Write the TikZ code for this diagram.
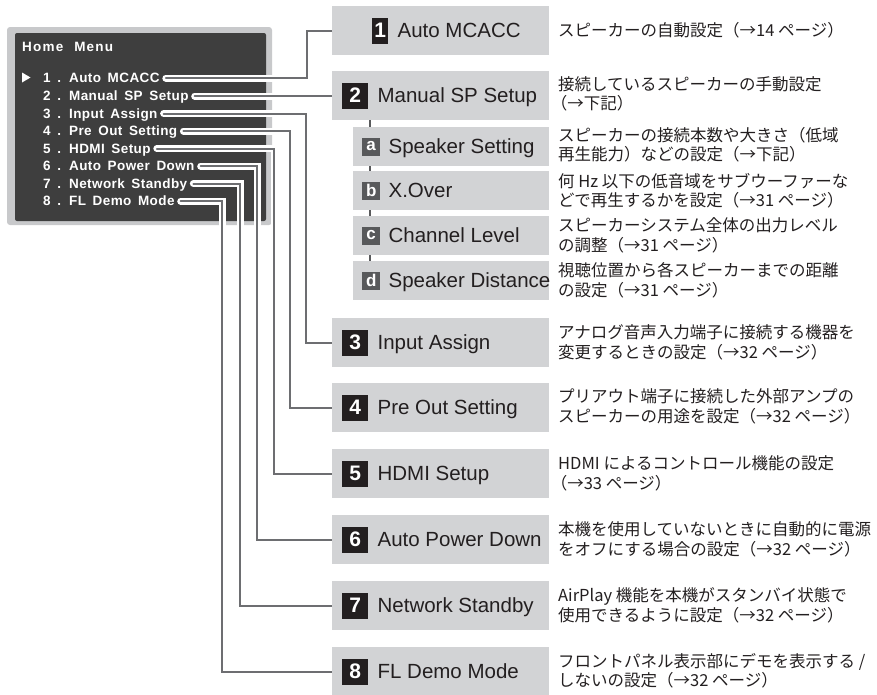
\documentclass[tikz,border=0pt]{standalone}
\usepackage{fontspec}
\setmainfont{Liberation Sans}
\newfontfamily\jp{Noto Sans CJK JP}
\newfontfamily\menufont[LetterSpace=3,WordSpace=1.6]{Liberation Sans}
\newfontfamily\homefont[LetterSpace=9,WordSpace=2.2]{Liberation Sans}
\definecolor{boxgray}{HTML}{D2D3D5}
\definecolor{badgeblack}{HTML}{231F20}
\definecolor{subdark}{HTML}{58595B}
\definecolor{ink}{HTML}{231F20}
\definecolor{conngray}{HTML}{6D6E71}
\definecolor{framegray}{HTML}{C8C9CB}
\definecolor{paneldark}{HTML}{3E3E3E}
\pgfdeclarelayer{back}
\pgfdeclarelayer{mid}
\pgfsetlayers{back,mid,main}
\begin{document}
\begin{tikzpicture}[x=1pt,y=-1pt,
  box/.style={fill=boxgray, minimum width=217pt, minimum height=49pt, anchor=north west, inner sep=0pt, outer sep=0pt},
  subbox/.style={fill=boxgray, minimum width=196pt, minimum height=39pt, anchor=north west, inner sep=0pt, outer sep=0pt},
  badge/.style={fill=badgeblack, text=white, font=\bfseries\fontsize{21}{21}\selectfont, minimum width=26pt, minimum height=26pt, inner sep=0pt, anchor=west},
  subbadge/.style={fill=subdark, text=white, font=\bfseries\fontsize{17}{17}\selectfont, minimum size=18pt, inner sep=0pt, anchor=west},
  boxlabel/.style={font=\fontsize{20.5}{20.5}\selectfont, text=ink, inner sep=0pt, text height=14.7pt, text depth=0pt, anchor=west},
  desc/.style={font=\jp\fontsize{16.5}{19.5}\selectfont, text=ink, align=left, inner sep=0pt, anchor=west},
  menuitem/.style={font=\menufont\bfseries\fontsize{13.5}{13.5}\selectfont, text=white, inner sep=0pt, text height=9.7pt, text depth=0pt, anchor=west},
  conn/.style={draw=conngray, line width=2pt, line cap=round, preaction={draw=white, line width=7pt, line cap=round}},
  subline/.style={draw=subdark, line width=1.5pt}
]
\useasboundingbox (0,0) rectangle (877,694);

% ---------- menu panel ----------
\begin{pgfonlayer}{back}
\fill[framegray, rounded corners=3pt] (7,27) rectangle (272,225);
\fill[paneldark, rounded corners=2pt] (15,33) rectangle (266,221);
\node[font=\homefont\bfseries\fontsize{13.5}{13.5}\selectfont, text=white, inner sep=0pt, text height=9.7pt, text depth=0pt, anchor=west] (home) at (22,46.5) {Home Menu};
\fill[white] (22,72.5) -- (30.5,77.5) -- (22,82.5) -- cycle;
\node[menuitem] (m1) at (43,78) {1 . Auto MCACC};
\node[menuitem] (m2) at (43,96) {2 . Manual SP Setup};
\node[menuitem] (m3) at (43,113.5) {3 . Input Assign};
\node[menuitem] (m4) at (43,131) {4 . Pre Out Setting};
\node[menuitem] (m5) at (43,148.5) {5 . HDMI Setup};
\node[menuitem] (m6) at (43,166) {6 . Auto Power Down};
\node[menuitem] (m7) at (43,183.5) {7 . Network Standby};
\node[menuitem] (m8) at (43,201) {8 . FL Demo Mode};
\end{pgfonlayer}

% ---------- boxes ----------
\node[box] (b1) at (332,6) {};
\node[box] (b2) at (332,71) {};
\node[subbox] (sa) at (353,127) {};
\node[subbox] (sb) at (353,171) {};
\node[subbox] (sc) at (353,216) {};
\node[subbox] (sd) at (353,261) {};
\node[box] (b3) at (332,318) {};
\node[box] (b4) at (332,383) {};
\node[box] (b5) at (332,449) {};
\node[box] (b6) at (332,515) {};
\node[box] (b7) at (332,581) {};
\node[box] (b8) at (332,647) {};

% badges and labels
\node[badge, minimum width=16pt] (n1) at ([xshift=40pt]b1.west) {1};
\node[boxlabel] (l1) at ([xshift=9pt]n1.east) {Auto MCACC};
\node[badge] (n2) at ([xshift=10pt]b2.west) {2};
\node[boxlabel] (l2) at ([xshift=9pt]n2.east) {Manual SP Setup};
\node[subbadge] (na) at ([xshift=9pt]sa.west) {a};
\node[boxlabel] (la) at ([xshift=8pt]na.east) {Speaker Setting};
\node[subbadge] (nb) at ([xshift=9pt]sb.west) {b};
\node[boxlabel] (lb) at ([xshift=8pt]nb.east) {X.Over};
\node[subbadge] (nc) at ([xshift=9pt]sc.west) {c};
\node[boxlabel] (lc) at ([xshift=8pt]nc.east) {Channel Level};
\node[subbadge] (nd) at ([xshift=9pt]sd.west) {d};
\node[boxlabel] (ld) at ([xshift=8pt]nd.east) {Speaker Distance};
\node[badge] (n3) at ([xshift=10pt]b3.west) {3};
\node[boxlabel] (l3) at ([xshift=9pt]n3.east) {Input Assign};
\node[badge] (n4) at ([xshift=10pt]b4.west) {4};
\node[boxlabel] (l4) at ([xshift=9pt]n4.east) {Pre Out Setting};
\node[badge] (n5) at ([xshift=10pt]b5.west) {5};
\node[boxlabel] (l5) at ([xshift=9pt]n5.east) {HDMI Setup};
\node[badge] (n6) at ([xshift=10pt]b6.west) {6};
\node[boxlabel] (l6) at ([xshift=9pt]n6.east) {Auto Power Down};
\node[badge] (n7) at ([xshift=10pt]b7.west) {7};
\node[boxlabel] (l7) at ([xshift=9pt]n7.east) {Network Standby};
\node[badge] (n8) at ([xshift=10pt]b8.west) {8};
\node[boxlabel] (l8) at ([xshift=9pt]n8.east) {FL Demo Mode};

% descriptions
\node[desc] (d1) at ([xshift=9pt]b1.east) {スピーカーの自動設定（→14 ページ）};
\node[desc] (d2) at ([xshift=9pt,yshift=1.5pt]b2.east) {接続しているスピーカーの手動設定\\\kern-0.45em（→下記）};
\node[desc] (da) at ([xshift=9pt,yshift=2pt]sa.east) {スピーカーの接続本数や大きさ（低域\\再生能力）などの設定（→下記）};
\node[desc] (db) at ([xshift=9pt]sb.east) {何 Hz 以下の低音域をサブウーファーな\\どで再生するかを設定（→31 ページ）};
\node[desc] (dc) at ([xshift=9pt]sc.east) {スピーカーシステム全体の出力レベル\\の調整（→31 ページ）};
\node[desc] (dd) at ([xshift=9pt]sd.east) {視聴位置から各スピーカーまでの距離\\の設定（→31 ページ）};
\node[desc] (d3) at ([xshift=9pt]b3.east) {アナログ音声入力端子に接続する機器を\\変更するときの設定（→32 ページ）};
\node[desc] (d4) at ([xshift=9pt,yshift=1pt]b4.east) {プリアウト端子に接続した外部アンプの\\スピーカーの用途を設定（→32 ページ）};
\node[desc] (d5) at ([xshift=9pt]b5.east) {HDMI によるコントロール機能の設定\\\kern-0.45em（→33 ページ）};
\node[desc] (d6) at ([xshift=9pt]b6.east) {本機を使用していないときに自動的に電源\\をオフにする場合の設定（→32 ページ）};
\node[desc] (d7) at ([xshift=9pt]b7.east) {AirPlay 機能を本機がスタンバイ状態で\\使用できるように設定（→32 ページ）};
\node[desc] (d8) at ([xshift=9pt,yshift=1pt]b8.east) {フロントパネル表示部にデモを表示する /\\しないの設定（→32 ページ）};

% ---------- connectors ----------
\begin{pgfonlayer}{mid}
\draw[subline] ([xshift=38pt]b2.south west) -- ([xshift=17pt]sd.north west);
\draw[conn] ([xshift=6pt]m1.east) -| ([xshift=-25pt]b1.west) -- (b1.west);
\draw[conn] ([xshift=6pt]m2.east) -- (m2.east -| b2.west);
\draw[conn] ([xshift=6pt]m3.east) -| ([xshift=-26pt]b3.west) -- (b3.west);
\draw[conn] ([xshift=6pt]m4.east) -| ([xshift=-42pt]b4.west) -- (b4.west);
\draw[conn] ([xshift=6pt]m5.east) -| ([xshift=-58pt]b5.west) -- (b5.west);
\draw[conn] ([xshift=6pt]m6.east) -| ([xshift=-75pt]b6.west) -- (b6.west);
\draw[conn] ([xshift=6pt]m7.east) -| ([xshift=-92pt]b7.west) -- (b7.west);
\draw[conn] ([xshift=6pt]m8.east) -| ([xshift=-110pt]b8.west) -- (b8.west);
\end{pgfonlayer}
\end{tikzpicture}
\end{document}
